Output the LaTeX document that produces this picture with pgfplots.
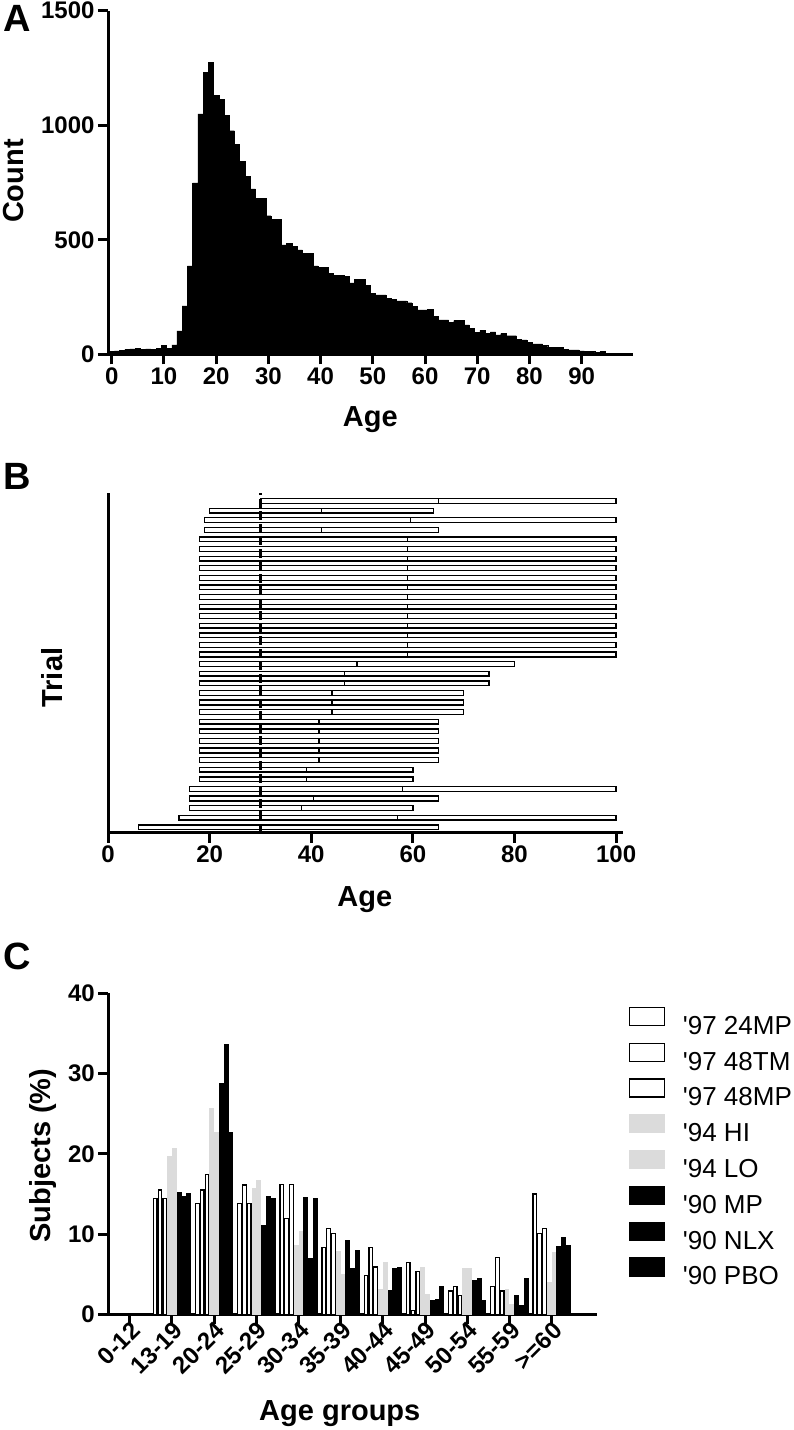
\documentclass[border=0pt]{standalone}
\usepackage{pgfplots}
\pgfplotsset{compat=1.18}
\usepackage{pgfplotstable}
\usepackage{fontspec}
\setmainfont{Liberation Sans}

\pgfplotstableread{
age count
0 14
1 15
2 18
3 22
4 24
5 26
6 23
7 24
8 22
9 25
10 38
11 26
12 41
13 102
14 211
15 386
16 748
17 1050
18 1232
19 1274
20 1131
21 1113
22 1044
23 976
24 918
25 841
26 777
27 722
28 682
29 680
30 605
31 588
32 588
33 478
34 485
35 470
36 456
37 442
38 442
39 386
40 380
41 380
42 354
43 344
44 344
45 340
46 312
47 326
48 326
49 300
50 266
51 259
52 259
53 245
54 240
55 233
56 233
57 225
58 209
59 194
60 194
61 197
62 165
63 150
64 150
65 138
66 147
67 147
68 128
69 114
70 95
71 104
72 92
73 98
74 85
75 90
76 81
77 81
78 66
79 63
80 52
81 45
82 45
83 39
84 31
85 31
86 31
87 23
88 19
89 19
90 15
91 12
92 12
93 8
94 12
95 5
96 3
97 2
}\histA

% y = row, a = start, b = mid-start, c = end-mid
\pgfplotstableread{
y a b c
35 30 35 35
34 20 22 22
33 19 40.6 40.4
32 19 23 23
31 18 41 41
30 18 41 41
29 18 41 41
28 18 41 41
27 18 41 41
26 18 41 41
25 18 41 41
24 18 41 41
23 18 41 41
22 18 41 41
21 18 41 41
20 18 41 41
19 18 41 41
18 18 31 31
17 18 28.6 28.4
16 18 28.6 28.4
15 18 26.1 25.9
14 18 26.1 25.9
13 18 26.1 25.9
12 18 23.5 23.5
11 18 23.5 23.5
10 18 23.5 23.5
9 18 23.5 23.5
8 18 23.5 23.5
7 18 21 21
6 18 21 21
5 16 42 42
4 16 24.5 24.5
3 16 22.1 21.9
2 14 43 43
1 6 24 35
}\trialB

\pgfplotstableread{
x  a    b    c    d    e    f    g    h
1  14.4 15.5 14.4 19.6 20.6 15.2 14.7 15.0
2  13.8 15.5 17.4 25.6 22.6 28.8 33.6 22.7
3  13.8 16.1 13.8 15.7 16.7 11.0 14.7 14.4
4  16.2 11.9 16.2 8.5  10.3 14.6 7.0  14.4
5  8.3  10.7 10.1 7.8  5.0  9.2  5.7  8.0
6  4.8  8.3  5.9  3.1  6.4  3.0  5.7  5.8
7  6.5  0.5  5.3  5.8  2.4  1.7  1.8  3.4
8  2.9  3.5  2.3  5.7  5.7  4.2  4.4  1.7
9  3.5  7.1  2.9  3.1  1.2  2.3  1.1  4.5
10 15.0 10.1 10.7 3.9  7.7  8.4  9.5  8.6
}\dataC

\definecolor{lgray}{gray}{0.86}

\pgfplotsset{
  prism/.style={
    scale only axis,
    anchor=south west,
    axis x line*=bottom,
    axis y line*=left,
    axis line style={line width=3pt, black},
    tick align=outside,
    major tick length=10pt,
    major tick style={line width=3pt, black},
    tick label style={font=\bfseries\fontsize{24}{24}\selectfont},
    label style={font=\bfseries\fontsize{29}{29}\selectfont},
    /pgf/number format/assume math mode=true,
    /pgf/number format/set thousands separator={},
  },
  openbar/.style={fill=white, draw=black, line width=1.2pt},
  graybar/.style={fill=lgray, draw=lgray, line width=1.2pt},
  blackbar/.style={fill=black, draw=black, line width=1.2pt},
}

\begin{document}
\begin{tikzpicture}[x=1pt,y=1pt]
\useasboundingbox (0,0) rectangle (794,1430);

% Panel letters
\node[anchor=base west, inner sep=0pt, font=\bfseries\fontsize{38}{38}\selectfont] at (3,1398.3) {A};
\node[anchor=base west, inner sep=0pt, font=\bfseries\fontsize{38}{38}\selectfont] at (3,940) {B};
\node[anchor=base west, inner sep=0pt, font=\bfseries\fontsize{38}{38}\selectfont] at (3,460) {C};

% ---------------- Panel A ----------------
\begin{axis}[prism,
  at={(108pt,1075.7pt)},
  width=524.7pt, height=343.6pt,
  xmin=-0.71, xmax=99.77, ymin=0, ymax=1500,
  xtick={0,10,...,90}, ytick={0,500,1000,1500},
  xlabel={Age}, ylabel={Count},
  xlabel style={at={(axis description cs:0.5,-0.2116)}, anchor=base},
  ylabel style={at={(axis description cs:-0.1798,0.504)}, anchor=center},
  clip=false,
]
\addplot[ybar, bar width=1, bar shift=0pt, fill=black, draw=black, line width=0.4pt]
  table[x=age, y=count] {\histA};
\end{axis}

% ---------------- Panel B ----------------
\begin{axis}[prism,
  at={(108pt,597.3pt)},
  width=514.7pt, height=339.4pt,
  xbar stacked, bar width=4.8pt,
  xmin=0, xmax=101.3, ymin=0.44, ymax=35.8,
  xtick={0,20,...,100}, ytick=\empty,
  xlabel={Age}, ylabel={Trial},
  xlabel style={at={(axis description cs:0.499,-0.216)}, anchor=base},
  ylabel style={at={(axis description cs:-0.1076,0.457)}, anchor=center},
]
\addplot[draw=none, fill=none] table[x=a, y=y] {\trialB};
\addplot[fill=white, draw=black, line width=1.3pt] table[x=b, y=y] {\trialB};
\addplot[fill=white, draw=black, line width=1.3pt] table[x=c, y=y] {\trialB};
\end{axis}
\begin{axis}[
  scale only axis, anchor=south west,
  at={(108pt,597.3pt)},
  width=514.7pt, height=339.4pt,
  xmin=0, xmax=101.3, ymin=0.44, ymax=35.8,
  axis lines=none,
]
\addplot[line width=3pt, black, dash pattern=on 9pt off 3.5pt] coordinates {(30,0.44) (30,35.8)};
\end{axis}

% ---------------- Panel C ----------------
\begin{axis}[prism,
  at={(108.3pt,115.7pt)},
  width=488.4pt, height=321pt,
  ybar=1.2pt, bar width=3.6pt,
  xmin=-0.51, xmax=11.07, ymin=0, ymax=40,
  xtick={0,...,10},
  xticklabels={0-12,13-19,20-24,25-29,30-34,35-39,40-44,45-49,50-54,55-59,\textgreater{}=60},
  xticklabel style={rotate=45, anchor=east, inner sep=0pt, xshift=3pt, yshift=-6pt},
  ytick={0,10,...,40},
  xlabel={Age groups}, ylabel={Subjects (\%)},
  xlabel style={at={(axis description cs:0.474,-0.332)}, anchor=base},
  ylabel style={at={(axis description cs:-0.134,0.494)}, anchor=center},
  legend style={at={(1.0655,0.958)}, anchor=north west, draw=none, fill=none,
    inner sep=0pt, outer sep=0pt, font=\fontsize{26}{26}\selectfont,
    row sep=8.2pt, column sep=18pt,
    nodes={inner sep=0pt, text height=18pt, text depth=0pt}},
  legend cell align=left,
  legend image code/.code={\draw[#1] (0pt,0pt) rectangle (35pt,18pt);},
]
\addplot[openbar] table[x=x, y=a] {\dataC};
\addplot[openbar] table[x=x, y=b] {\dataC};
\addplot[openbar] table[x=x, y=c] {\dataC};
\addplot[graybar] table[x=x, y=d] {\dataC};
\addplot[graybar] table[x=x, y=e] {\dataC};
\addplot[blackbar] table[x=x, y=f] {\dataC};
\addplot[blackbar] table[x=x, y=g] {\dataC};
\addplot[blackbar] table[x=x, y=h] {\dataC};
\legend{\textquotesingle 97 24MP, \textquotesingle 97 48TM, \textquotesingle 97 48MP, \textquotesingle 94 HI, \textquotesingle 94 LO, \textquotesingle 90 MP, \textquotesingle 90 NLX, \textquotesingle 90 PBO}
\end{axis}
\end{tikzpicture}
\end{document}
